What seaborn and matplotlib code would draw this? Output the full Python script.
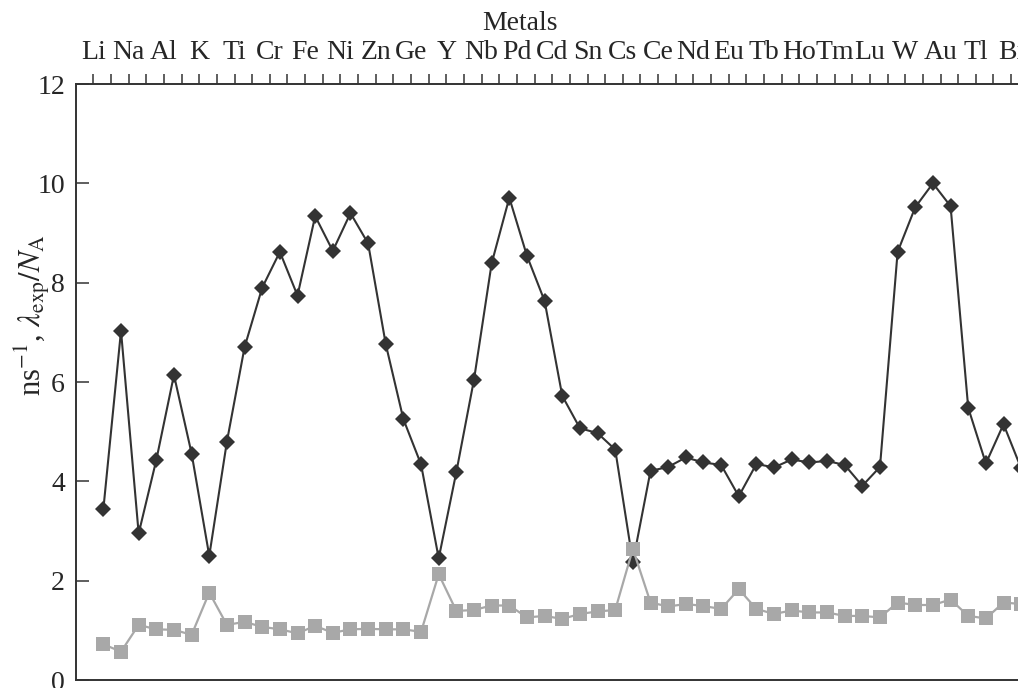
import numpy as np
import pandas as pd
import matplotlib
matplotlib.use("Agg")
import matplotlib.pyplot as plt
import seaborn as sns

# ---- data ----
metal_labels = ["Li", "Na", "Al", "K", "Ti", "Cr", "Fe", "Ni", "Zn", "Ge", "Y", "Nb", "Pd",
                "Cd", "Sn", "Cs", "Ce", "Nd", "Eu", "Tb", "Ho", "Tm", "Lu", "W", "Au", "Tl", "Bi"]

lambda_exp = [3.44, 7.03, 2.95, 4.43, 6.14, 4.56, 2.50, 4.80, 6.70, 7.90,
              8.62, 7.74, 9.34, 8.64, 9.40, 8.79, 6.76, 5.25, 4.34, 2.45,
              4.19, 6.05, 8.39, 9.71, 8.54, 7.63, 5.72, 5.07, 4.97, 4.64,
              2.37, 4.21, 4.29, 4.48, 4.38, 4.33, 3.70, 4.35, 4.28, 4.44,
              4.38, 4.41, 4.33, 3.91, 4.29, 8.62, 9.52, 10.00, 9.54, 5.48,
              4.36, 5.15, 4.26]

lambda_na = [0.72, 0.57, 1.11, 1.02, 1.01, 0.91, 1.76, 1.11, 1.17, 1.07,
             1.02, 0.94, 1.09, 0.95, 1.02, 1.03, 1.02, 1.02, 0.97, 2.13,
             1.39, 1.41, 1.50, 1.50, 1.26, 1.29, 1.23, 1.33, 1.38, 1.41,
             2.64, 1.56, 1.48, 1.53, 1.49, 1.43, 1.83, 1.43, 1.33, 1.40,
             1.36, 1.36, 1.29, 1.29, 1.26, 1.56, 1.51, 1.51, 1.62, 1.29,
             1.24, 1.56, 1.53]

y_ticks = [0, 2, 4, 6, 8, 10, 12]

idx = np.arange(len(lambda_exp))
df = pd.DataFrame({"pos": idx, "dark": lambda_exp, "light": lambda_na})

# ---- style ----
sns.set_style("white")
plt.rcParams["font.family"] = ["Liberation Serif", "DejaVu Serif"]
plt.rcParams["mathtext.fontset"] = "stix"

W, H = 1018, 688
fig = plt.figure(figsize=(W / 100, H / 100), dpi=100)
left_px, right_px, top_px, bottom_px = 76, 1018, 84, 680
ax = fig.add_axes([left_px / W, 1 - bottom_px / H,
                   (right_px - left_px) / W, (bottom_px - top_px) / H])

dark = "#333333"
gray = "#a8a8a8"

sns.lineplot(data=df, x="pos", y="dark", ax=ax, color=dark, linewidth=1.5,
             marker="D", markersize=8.4, markeredgewidth=0, markerfacecolor=dark,
             zorder=2)
sns.lineplot(data=df, x="pos", y="light", ax=ax, color=gray, linewidth=1.6,
             marker="s", markersize=9.6, markeredgewidth=0, markerfacecolor=gray,
             zorder=3)

# axes limits
ax.set_xlim(-1.55, 51.82)
ax.set_ylim(0, 12)

# top x-axis with element labels
tick_offset = -0.57
ax.xaxis.set_ticks_position("top")
ticks = idx + tick_offset
ax.set_xticks(ticks)
lab = []
for i in idx:
    lab.append(metal_labels[i // 2] if i % 2 == 0 else "")
ax.set_xticklabels(lab, fontsize=20)
ax.tick_params(axis="x", which="major", direction="out", length=7, width=1.1,
               color="#333333", top=True, bottom=False, labeltop=True,
               labelbottom=False, pad=6.5)
ax.set_xlabel("")

ax.set_yticks(y_ticks)
ax.set_yticklabels([str(v) for v in y_ticks], fontsize=20)
ax.tick_params(axis="y", which="major", direction="in", length=9, width=1.1,
               color="#333333", left=True, right=False, pad=8)
ax.set_ylabel("")

for side in ["left", "top", "bottom"]:
    ax.spines[side].set_visible(True)
    ax.spines[side].set_color("#333333")
    ax.spines[side].set_linewidth(1.4)
ax.spines["right"].set_visible(False)

fig.text(520 / W, 1 - 24 / H, "Metals", ha="center", va="center", fontsize=20)
fig.text(32 / W, 1 - 315 / H, r"ns$^{-1}$, $\lambda_{\mathrm{exp}}/N_{\mathrm{A}}$",
         rotation=90, ha="center", va="center", fontsize=22)

fig.savefig("out.png", dpi=100)
